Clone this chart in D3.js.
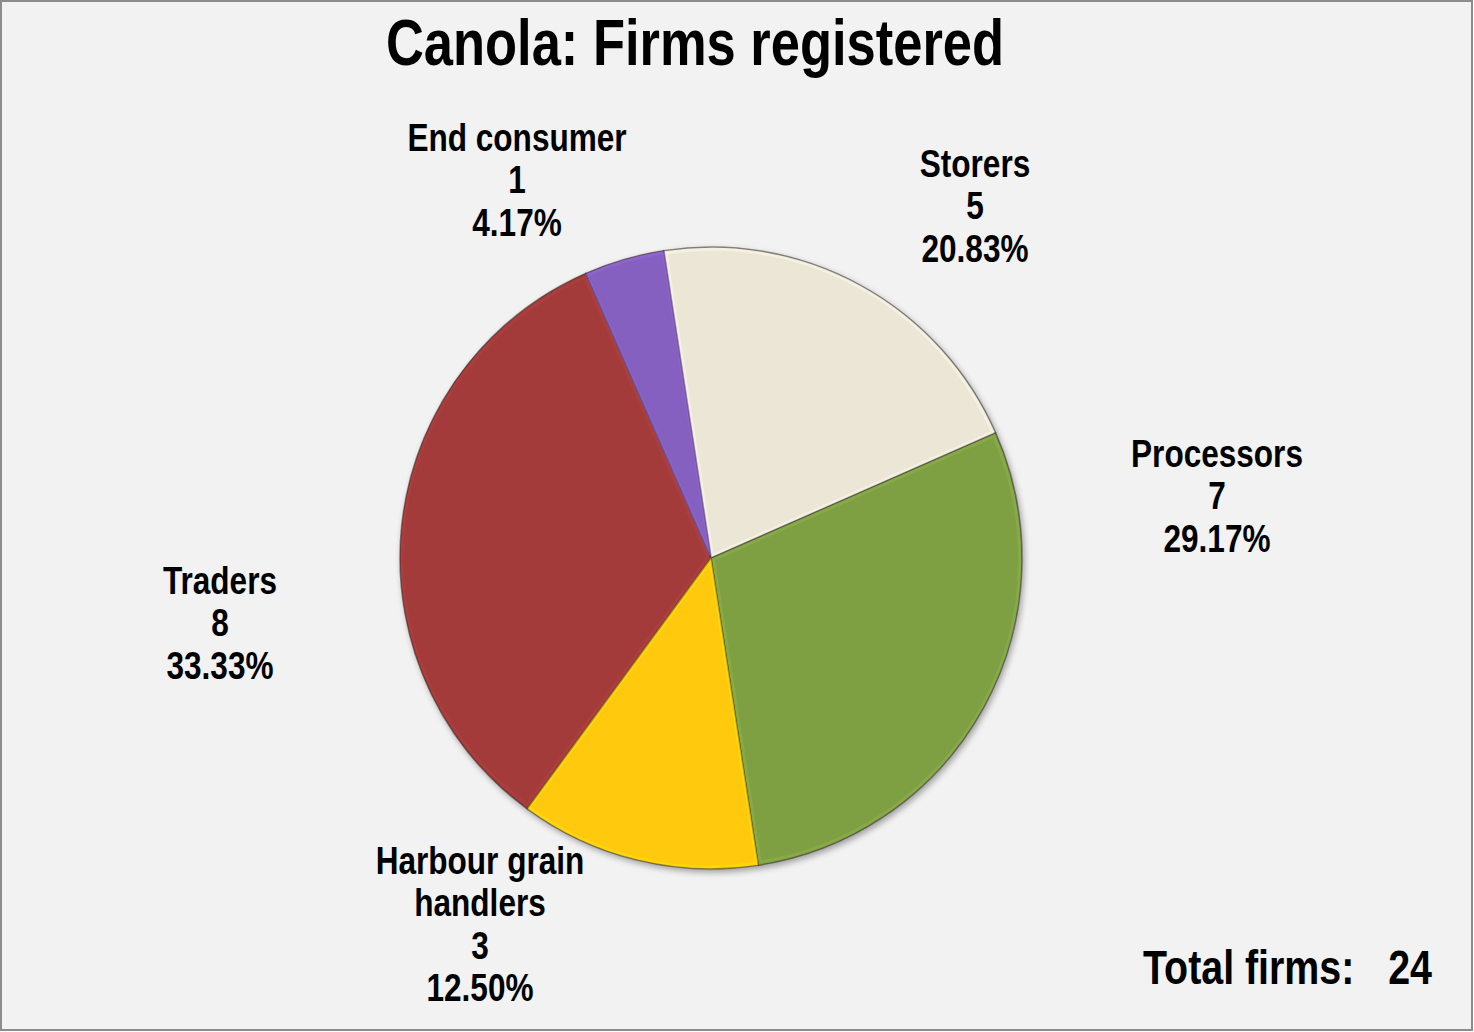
<!DOCTYPE html>
<html><head><meta charset="utf-8">
<script src="https://cdn.jsdelivr.net/npm/d3@7"></script>
<style>
html,body{margin:0;padding:0;background:#fff;}
svg{display:block;}
text{font-family:"Liberation Sans Narrow","Arial Narrow","Liberation Sans",Arial,sans-serif;font-weight:bold;fill:#000;}
</style></head>
<body>
<svg id="chart" width="1474" height="1032"></svg>
<script>
const categories = ["Storers","Processors","Harbour grain handlers","Traders","End consumer"];
const firms = [5, 7, 3, 8, 1];
const sliceColors = ["#EBE6D5","#7FA043","#FFC90A","#A33A3A","#8560C0"];
const labelLines = [["Storers"],["Processors"],["Harbour grain","handlers"],["Traders"],["End consumer"]];
const labelAnchors = [[975,163],[1217,453],[480,860],[220,580],[517,137]];
const titleText = "Canola: Firms registered";
const totalLabel = "Total firms:";

const W = 1474, H = 1032;
const NARROW = 0.82;
const svg = d3.select("#chart");
svg.append("rect").attr("x",1).attr("y",1).attr("width",W-3).attr("height",H-3)
  .attr("fill","#F2F2F2").attr("stroke","#8C8C8C").attr("stroke-width",2);

function narrowText(parent, x, y, size, anchor){
  const g = parent.append("g").attr("transform",`translate(${x},${y}) scale(${NARROW},1)`);
  return g.append("text").attr("x",0).attr("y",0).attr("text-anchor",anchor).style("font-size",size+"px");
}

narrowText(svg, 695, 65, 64, "middle").text(titleText);

const total = d3.sum(firms);
const cx = 711, cy = 558, R = 311;
const startA = -8.75 * Math.PI/180;
const pie = d3.pie().sort(null).value(d=>d.v).startAngle(startA).endAngle(startA+2*Math.PI);
const data = categories.map((c,i)=>({c, v:firms[i], col:sliceColors[i], i}));
const arcs = pie(data);
const arc = d3.arc().innerRadius(0).outerRadius(R);

const defs = svg.append("defs");
const sh = defs.append("filter").attr("id","shadow").attr("x","-10%").attr("y","-10%").attr("width","120%").attr("height","120%");
sh.append("feGaussianBlur").attr("in","SourceAlpha").attr("stdDeviation",3).attr("result","b");
sh.append("feOffset").attr("in","b").attr("dx",2).attr("dy",3).attr("result","o");
sh.append("feComponentTransfer").attr("in","o").attr("result","o2").append("feFuncA").attr("type","linear").attr("slope",0.35);
const m = sh.append("feMerge"); m.append("feMergeNode").attr("in","o2"); m.append("feMergeNode").attr("in","SourceGraphic");

const g = svg.append("g").attr("transform",`translate(${cx},${cy})`);
const gp = g.append("g").attr("filter","url(#shadow)");
gp.selectAll("path.slice").data(arcs).join("path").attr("class","slice")
  .attr("d",arc).attr("fill",d=>d.data.col)
  .attr("stroke","rgba(50,40,40,0.55)").attr("stroke-width",1.5).attr("stroke-linejoin","round");
// subtle bevel highlight
const arcIn = d3.arc().innerRadius(0).outerRadius(R-5);
gp.selectAll("path.hl").data(arcs).join("path").attr("class","hl")
  .attr("d",arcIn).attr("fill","none")
  .attr("stroke",d=>d3.color(d.data.col).brighter(0.35)).attr("stroke-opacity",0.45).attr("stroke-width",3)
  .attr("transform",d=>{const [x,y]=arc.centroid(d);const l=Math.hypot(x,y);return `translate(${x/l*3},${y/l*3})`;});

const lh = 42.5;
const lg = svg.append("g");
arcs.forEach((d,i)=>{
  const [x,y] = labelAnchors[i];
  const lines = labelLines[i].concat([String(d.data.v), d3.format(".2%")(d.data.v/total)]);
  const t = narrowText(lg, x, y+14, 38.5, "middle");
  lines.forEach((s,k)=>t.append("tspan").attr("x",0).attr("y",k*lh).text(s));
});

narrowText(svg, 1143, 984, 48, "start").text(totalLabel);
narrowText(svg, 1432, 984, 48, "end").text(String(total));
</script>
</body></html>
